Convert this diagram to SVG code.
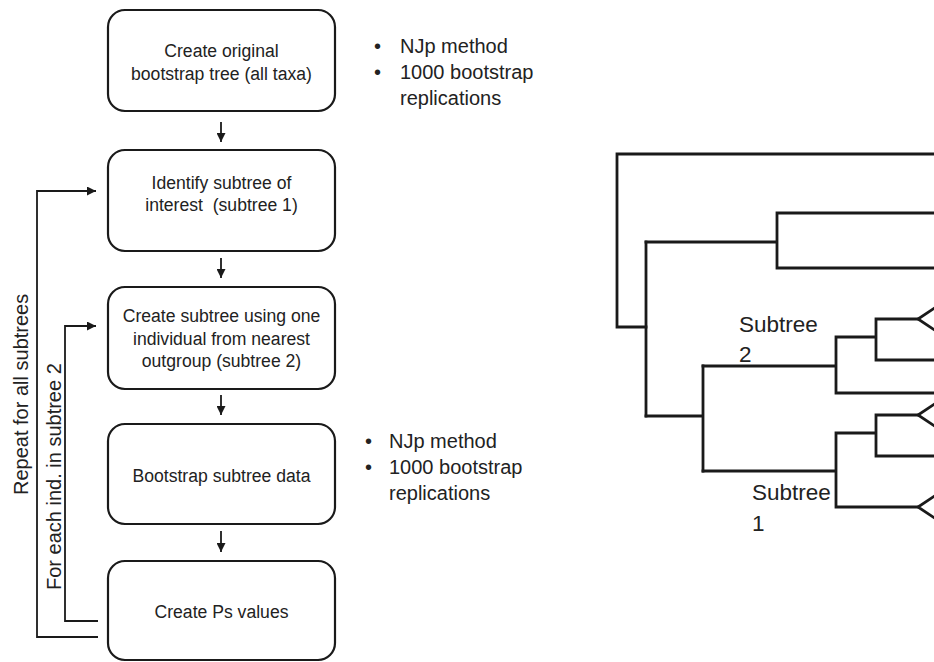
<svg xmlns="http://www.w3.org/2000/svg" width="934" height="662" viewBox="0 0 934 662">
<style>
.box{fill:#fff;stroke:#1a1a1a;stroke-width:2.2}
.bt{font-family:"Liberation Sans",Arial,sans-serif;font-size:17.6px;fill:#222;text-anchor:middle}
.nt{font-family:"Liberation Sans",Arial,sans-serif;font-size:20px;fill:#222}
.lt{font-family:"Liberation Sans",Arial,sans-serif;font-size:20px;fill:#222}
.st{font-family:"Liberation Sans",Arial,sans-serif;font-size:22.5px;fill:#222}
.ar{fill:none;stroke:#1a1a1a;stroke-width:1.8}
.tr{fill:none;stroke:#1a1a1a;stroke-width:2.8;stroke-linecap:square}
</style>
<defs>
<marker id="ah" viewBox="0 0 10 10" refX="10" refY="5" markerWidth="5" markerHeight="5" markerUnits="strokeWidth" orient="auto">
<path d="M0,0 L10,5 L0,10 z" fill="#1a1a1a"/>
</marker>
</defs>
<rect width="934" height="662" fill="#fff"/>

<g id="n1">
<rect class="box" x="108" y="10" width="227" height="101" rx="17"/>
<text class="bt" x="221.5" y="57">Create original</text>
<text class="bt" x="221.5" y="80">bootstrap tree (all taxa)</text>
</g>
<g id="n2">
<rect class="box" x="108" y="150" width="227" height="101" rx="17"/>
<text class="bt" x="221.5" y="189">Identify subtree of</text>
<text class="bt" x="221.5" y="211" xml:space="preserve">interest  (subtree 1)</text>
</g>
<g id="n3">
<rect class="box" x="108" y="287" width="227" height="102" rx="17"/>
<text class="bt" x="221.5" y="322">Create subtree using one</text>
<text class="bt" x="221.5" y="345">individual from nearest</text>
<text class="bt" x="221.5" y="367">outgroup (subtree 2)</text>
</g>
<g id="n4">
<rect class="box" x="108" y="424" width="227" height="100" rx="17"/>
<text class="bt" x="221.5" y="482">Bootstrap subtree data</text>
</g>
<g id="n5">
<rect class="box" x="108" y="561" width="227" height="99" rx="17"/>
<text class="bt" x="221.5" y="618">Create Ps values</text>
</g>

<g id="notes1">
<text class="nt" x="374" y="53">•</text><text class="nt" x="400" y="53">NJp method</text>
<text class="nt" x="374" y="79">•</text><text class="nt" x="400" y="79">1000 bootstrap</text>
<text class="nt" x="400" y="105">replications</text>
</g>
<g id="notes2">
<text class="nt" x="365" y="448">•</text><text class="nt" x="389" y="448">NJp method</text>
<text class="nt" x="365" y="474">•</text><text class="nt" x="389" y="474">1000 bootstrap</text>
<text class="nt" x="389" y="500">replications</text>
</g>

<g id="connectors">
<line class="ar" x1="221" y1="122" x2="221" y2="142" marker-end="url(#ah)"/>
<line class="ar" x1="221" y1="258" x2="221" y2="278" marker-end="url(#ah)"/>
<line class="ar" x1="221" y1="395" x2="221" y2="415" marker-end="url(#ah)"/>
<line class="ar" x1="221" y1="531" x2="221" y2="552" marker-end="url(#ah)"/>
<path class="ar" d="M98,637 H37 V191 H96" marker-end="url(#ah)"/>
<path class="ar" d="M98,621 H65 V326 H96" marker-end="url(#ah)"/>
</g>

<g id="loop-labels">
<text class="lt" transform="translate(28,495) rotate(-90)">Repeat for all subtrees</text>
<text class="lt" transform="translate(61,590) rotate(-90)">For each ind. in subtree 2</text>
</g>

<g id="tree">
<path class="tr" d="M940,154 H617 V327 H646"/>
<path class="tr" d="M646,242 V416"/>
<path class="tr" d="M646,242 H777 M777,213 V268 M777,213 H940 M777,268 H940"/>
<path class="tr" d="M646,416 H703 M703,366 V471"/>
<path class="tr" d="M703,366 H836 M836,337 V393 M836,393 H940 M836,337 H876 M876,319 V360 M876,360 H940 M876,319 H918"/>
<path class="tr" d="M703,471 H836 M836,433 V507 M836,433 H876 M876,415 V456 M876,456 H940 M876,415 H918 M836,507 H918"/>
<path class="tr" d="M936,307 L918,319 L936,331 M936,403 L918,415 L936,427 M936,495 L918,507 L936,519" stroke-linecap="butt" stroke-linejoin="miter"/>
</g>

<g id="tree-labels">
<text class="st" x="739" y="332">Subtree</text>
<text class="st" x="739" y="362">2</text>
<text class="st" x="752" y="500">Subtree</text>
<text class="st" x="752" y="531">1</text>
</g>
</svg>
